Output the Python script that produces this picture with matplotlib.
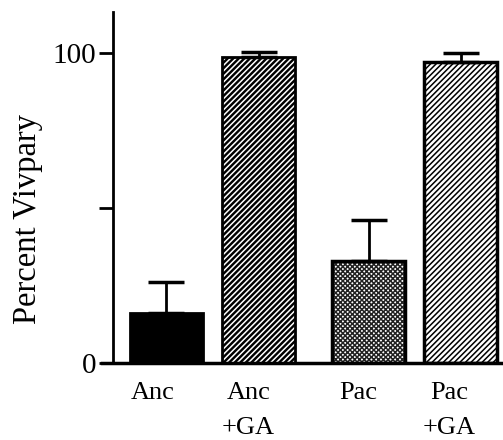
import matplotlib
matplotlib.use("Agg")
import matplotlib.pyplot as plt

# data
groups = ["Anc", "Anc\n+GA", "Pac", "Pac\n+GA"]
vivpary = [16, 98.7, 33, 97]
err_up = [10, 1.6, 13, 3]

# layout (x in units of 100 px, 0 at first bar centre)
bar_x = [0, 0.925, 2.025, 2.945]
label_x = [-0.13, 0.56, 1.92, 2.83]
label_ha = ["center", "left", "center", "center"]

plt.rcParams["font.family"] = ["Liberation Serif", "DejaVu Serif"]
plt.rcParams["hatch.linewidth"] = 1.1

fig = plt.figure(figsize=(5.03, 4.40), dpi=100)
ax = fig.add_axes([102 / 503, 77 / 440, 401 / 503, 351 / 440])

bw = 0.73
# Anc: solid black
ax.bar(bar_x[0], vivpary[0], bw, color="black", edgecolor="black", lw=2)
# Anc+GA: black with white diagonal lines
ax.bar(bar_x[1], vivpary[1], bw, color="black", edgecolor="white", hatch="//////", lw=0)
ax.bar(bar_x[1], vivpary[1], bw, fill=False, edgecolor="black", lw=2)
# Pac: fine checker (grey look)
ax.bar(bar_x[2], vivpary[2], bw, color="white", edgecolor="#222222", hatch="xxxxxxx", lw=0)
ax.bar(bar_x[2], vivpary[2], bw, fill=False, edgecolor="black", lw=2.5)
# Pac+GA: white with black diagonal lines
ax.bar(bar_x[3], vivpary[3], bw, color="white", edgecolor="black", hatch="//////", lw=0)
ax.bar(bar_x[3], vivpary[3], bw, fill=False, edgecolor="black", lw=2.5)

ax.errorbar(bar_x, vivpary, yerr=[[0] * 4, err_up], fmt="none", ecolor="black",
            elinewidth=2, capsize=13, capthick=2.5)

ax.set_xlim(-0.64, 3.37)
ax.set_ylim(0, 113.2)
ax.spines["top"].set_visible(False)
ax.spines["right"].set_visible(False)
ax.spines["left"].set_position(("data", -0.53))
ax.spines["left"].set_linewidth(2)
ax.spines["bottom"].set_linewidth(2.5)

ax.set_xticks([])
ax.set_yticks([0, 50, 100])
ax.set_yticklabels(["0", "", "100"])
ax.tick_params(axis="y", direction="out", length=10, width=2, pad=2, labelsize=21)

for x, name, ha in zip(label_x, groups, label_ha):
    ax.text(x, -6.2, name, ha=ha, va="top", fontsize=19, linespacing=1.75,
            multialignment="center")

fig.text(28 / 503, 1 - 219 / 440, "Percent Vivpary", rotation=90,
         ha="center", va="center", fontsize=23.5)

fig.savefig("out.png", dpi=100)
